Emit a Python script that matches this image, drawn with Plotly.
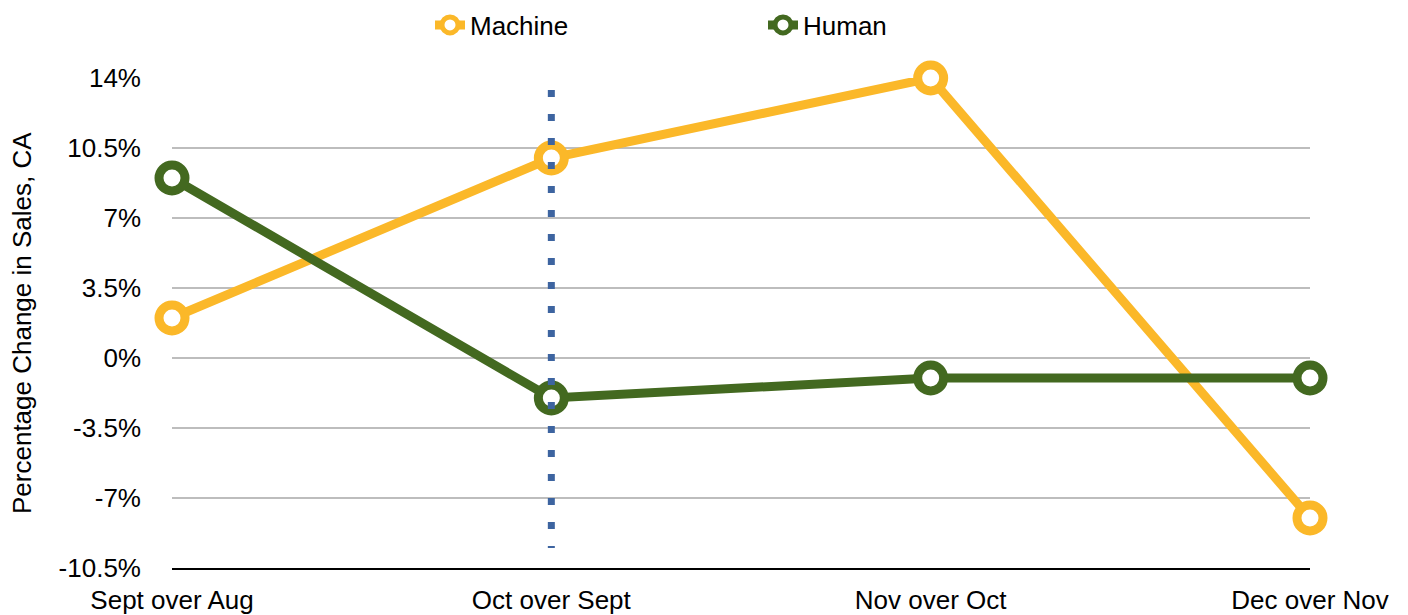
import plotly.graph_objects as go

# Data
categories = ["Sept over Aug", "Oct over Sept", "Nov over Oct", "Dec over Nov"]
machine = [2, 10, 14, -8]
human = [9, -2, -1, -1]

tick_vals = [-10.5, -7, -3.5, 0, 3.5, 7, 10.5, 14]
tick_text = ["-10.5%", "-7%", "-3.5%", "0%", "3.5%", "7%", "10.5%", "14%"]

# Dotted reference line at "Oct over Sept"
ref_category = "Oct over Sept"
ref_top, ref_bottom = 13.4, -9.5

ORANGE = "#FBB829"
GREEN = "#436920"
FONT = "Liberation Sans, Arial, Helvetica, sans-serif"

# page body has an 8px margin, so the figure is 1400x607
W, H = 1400, 607
L, R, T, B = 164, 98, 70, 47
plot_w, plot_h = W - L - R, H - T - B

fig = go.Figure()

for name, vals, color in [("Machine", machine, ORANGE), ("Human", human, GREEN)]:
    fig.add_trace(go.Scatter(
        x=categories, y=vals, name=name, mode="lines+markers",
        line=dict(color=color, width=9),
        marker=dict(symbol="circle", size=26, color="white",
                    line=dict(color=color, width=9)),
        cliponaxis=False,
    ))

fig.add_shape(
    type="line", xref="x", yref="y", layer="above",
    x0=ref_category, x1=ref_category, y0=ref_top, y1=ref_bottom,
    line=dict(color="#3D64A0", width=7, dash="7px,17px"),
)

fig.update_layout(
    width=W, height=H,
    margin=dict(l=L, r=R, t=T, b=B, autoexpand=False),
    paper_bgcolor="white", plot_bgcolor="white",
    font=dict(family=FONT, size=26, color="black"),
    showlegend=True,
    legend=dict(
        orientation="h", x=(422 - L) / plot_w, xanchor="left",
        y=1 + (T - 17) / plot_h, yanchor="middle",
        entrywidth=288, entrywidthmode="pixels",
        font=dict(size=26), bgcolor="rgba(0,0,0,0)",
    ),
    annotations=[dict(
        text="Percentage Change in Sales, CA", textangle=-90,
        xref="paper", yref="paper", x=(14 - L) / plot_w, y=(plot_h - 245) / plot_h,
        xanchor="center", yanchor="middle", showarrow=False,
        font=dict(size=26),
    )],
)

fig.update_xaxes(
    type="category", range=[0, 3], showgrid=False,
    showline=True, linecolor="black", linewidth=2,
    ticks="", ticklabelstandoff=8,
)
fig.update_yaxes(
    range=[-10.5, 14], tickvals=tick_vals, ticktext=tick_text,
    showgrid=True, gridcolor="#BDBDBD", gridwidth=2,
    zeroline=False, showline=False, ticks="", ticklabelstandoff=30,
)

fig.write_html("out.html")
